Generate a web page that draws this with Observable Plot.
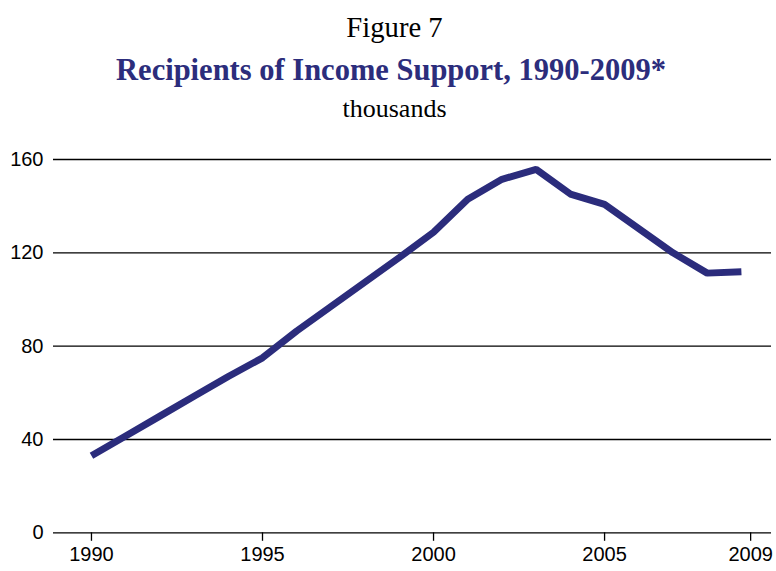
<!DOCTYPE html>
<html>
<head>
<meta charset="utf-8">
<script src="https://cdn.jsdelivr.net/npm/d3@7"></script>
<script src="https://cdn.jsdelivr.net/npm/@observablehq/plot@0.6"></script>
<style>
  html, body { margin: 0; padding: 0; background: #fff; }
  #page { position: relative; width: 776px; height: 571px; overflow: hidden; }
  .hdr { position: absolute; left: 0; text-align: center; font-family: "Liberation Serif", "Times New Roman", serif; white-space: nowrap; }
  #fig { top: 11px; width: 789px; font-size: 28.7px; color: #000; }
  #title { top: 53px; width: 782px; font-size: 30.5px; font-weight: bold; color: #2c2d7c; }
  #unit { top: 94px; width: 789px; font-size: 26px; color: #000; }
  #chart { position: absolute; left: 0; top: 130px; }
</style>
</head>
<body>
<div id="page">
  <div class="hdr" id="fig">Figure 7</div>
  <div class="hdr" id="title">Recipients of Income Support, 1990-2009*</div>
  <div class="hdr" id="unit">thousands</div>
  <div id="chart"></div>
</div>
<script>
// Recipients of Income Support, thousands, by year
const years = [1990, 1991, 1992, 1993, 1994, 1995, 1996, 1997, 1998, 1999,
               2000, 2001, 2002, 2003, 2004, 2005, 2006, 2007, 2008, 2009];
const recipients = [33, 41.5, 50, 58.5, 67, 75, 86.5, 97, 107.5, 118,
                    128.8, 143, 151.5, 155.8, 145.2, 140.8, 130.4, 120, 111.3, 111.9];

// Axis ticks
const yTicks = [0, 40, 80, 120, 160];
const xTickPos = [1990, 1995, 2000, 2005, 2009.27];
const xTickLabels = ["1990", "1995", "2000", "2005", "2009"];

const data = years.map((year, i) => ({year, value: recipients[i]}));

const chart = Plot.plot({
  width: 776,
  height: 441,
  marginTop: 29,
  marginBottom: 38.7,
  marginLeft: 53,
  marginRight: 5,
  style: {fontFamily: "'Liberation Sans', Arial, sans-serif", fontSize: "20px", color: "#000", background: "#fff"},
  x: {domain: [1988.89, 2009.88]},
  y: {domain: [0, 160]},
  marks: [
    Plot.ruleY(yTicks, {stroke: "#000", strokeWidth: 1.3}),
    Plot.axisY({ticks: yTicks, tickSize: 0, tickPadding: 10, label: null, fontSize: 20}),
    Plot.axisX({ticks: xTickPos, tickSize: 8.5, tickPadding: 5, label: null, fontSize: 20,
                stroke: "#000", strokeWidth: 1.3,
                tickFormat: d => xTickLabels[xTickPos.indexOf(d)]}),
    Plot.line(data, {x: "year", y: "value", stroke: "#2b2c7c", strokeWidth: 7,
                     strokeLinecap: "butt", strokeLinejoin: "miter"})
  ]
});
document.getElementById("chart").appendChild(chart);
</script>
</body>
</html>
